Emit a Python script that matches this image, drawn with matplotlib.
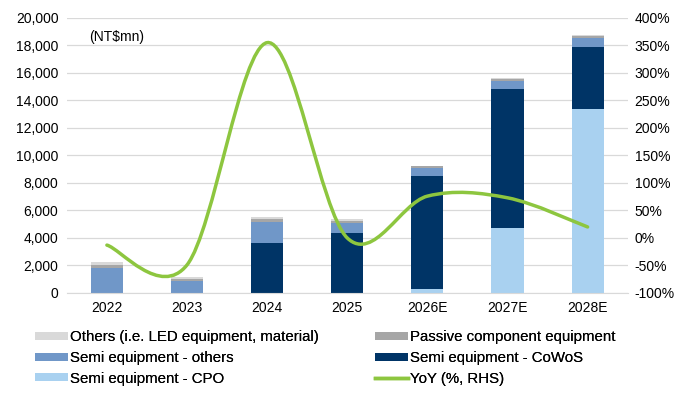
import numpy as np
import matplotlib
matplotlib.use("Agg")
from matplotlib import pyplot as plt
from matplotlib.path import Path
from matplotlib.patches import PathPatch
from matplotlib.lines import Line2D
from matplotlib.ticker import FuncFormatter, MultipleLocator

plt.rcParams['font.family'] = ['Liberation Sans', 'DejaVu Sans']

years = ['2022', '2023', '2024', '2025', '2026E', '2027E', '2028E']
cpo = [0, 0, 0, 0, 300, 4700, 13400]
cowos = [0, 0, 3650, 4380, 8200, 10100, 4500]
semi_others = [1800, 880, 1520, 730, 600, 640, 660]
passive = [220, 140, 220, 150, 100, 100, 140]
others = [220, 130, 120, 120, 50, 60, 70]
yoy = [-13, -49, 355, 0, 76, 73, 20]

series = [
    ('Semi equipment - CPO', cpo, '#A9D1F0'),
    ('Semi equipment - CoWoS', cowos, '#003466'),
    ('Semi equipment - others', semi_others, '#7097C8'),
    ('Passive component equipment', passive, '#A6A6A6'),
    ('Others (i.e. LED equipment, material)', others, '#D9D9D9'),
]
green = '#8DC63F'

fig = plt.figure(figsize=(6.89, 3.97), dpi=100)
ax = fig.add_axes([0.097, 0.262, 0.814, 0.693])
ax2 = ax.twinx()

x = np.arange(len(years))
bottom = np.zeros(len(years))
handles = {}
for name, vals, col in series:
    b = ax.bar(x, vals, 0.4, bottom=bottom, color=col, zorder=2, label=name)
    handles[name] = b
    bottom += np.array(vals)

ax.set_ylim(0, 20000)
ax.set_xlim(-0.5, len(years) - 0.5)
ax.yaxis.set_major_locator(MultipleLocator(2000))
ax.yaxis.set_major_formatter(FuncFormatter(lambda v, p: f'{v:,.0f}'))
ax.grid(axis='y', color='#D9D9D9', lw=0.9, zorder=0)
ax.set_axisbelow(True)
ax.set_xticks(x)
ax.set_xticklabels(years)
for s in ['top', 'left', 'right']:
    ax.spines[s].set_visible(False)
    ax2.spines[s].set_visible(False)
ax.spines['bottom'].set_color('#D9D9D9')
ax2.spines['bottom'].set_visible(False)
ax.tick_params(length=0, labelsize=10, pad=6)
ax2.tick_params(length=0, labelsize=10, pad=5)

# smoothed YoY line (Excel style bezier through points)
ax2.set_ylim(-100, 400)
ax2.yaxis.set_major_locator(MultipleLocator(50))
ax2.yaxis.set_major_formatter(FuncFormatter(lambda v, p: f'{v:.0f}%'))
pts = np.column_stack([x, yoy]).astype(float)
verts = [pts[0]]
codes = [Path.MOVETO]
n = len(pts)
for i in range(n - 1):
    p0 = pts[max(i - 1, 0)]
    p1 = pts[i]
    p2 = pts[i + 1]
    p3 = pts[min(i + 2, n - 1)]
    verts += [p1 + (p2 - p0) / 6, p2 - (p3 - p1) / 6, p2]
    codes += [Path.CURVE4] * 3
ax2.add_patch(PathPatch(Path(verts, codes), fill=False, edgecolor=green, lw=2.5, capstyle='round', zorder=3))

ax.text(0.04, 0.93, '(NT$mn)', transform=ax.transAxes, fontsize=10, va='center')

yoy_handle = Line2D([], [], color=green, lw=2.5)
col1 = [
    (handles['Others (i.e. LED equipment, material)'], 'Others (i.e. LED equipment, material)'),
    (handles['Semi equipment - others'], 'Semi equipment - others'),
    (handles['Semi equipment - CPO'], 'Semi equipment - CPO'),
]
col2 = [
    (handles['Passive component equipment'], 'Passive component equipment'),
    (handles['Semi equipment - CoWoS'], 'Semi equipment - CoWoS'),
    (yoy_handle, 'YoY (%, RHS)'),
]
leg_kw = dict(loc='upper left', frameon=False, fontsize=10.8,
              handlelength=2.2, handleheight=0.45, handletextpad=0.15,
              labelspacing=0.45, borderaxespad=0, borderpad=0)
for items, xpos in [(col1, 35 / 689), (col2, 375 / 689)]:
    leg = fig.legend([h for h, l in items], [l for h, l in items],
                     bbox_to_anchor=(xpos, 0.168), **leg_kw)
    fig.add_artist(leg)

fig.savefig('out.png', dpi=100)
